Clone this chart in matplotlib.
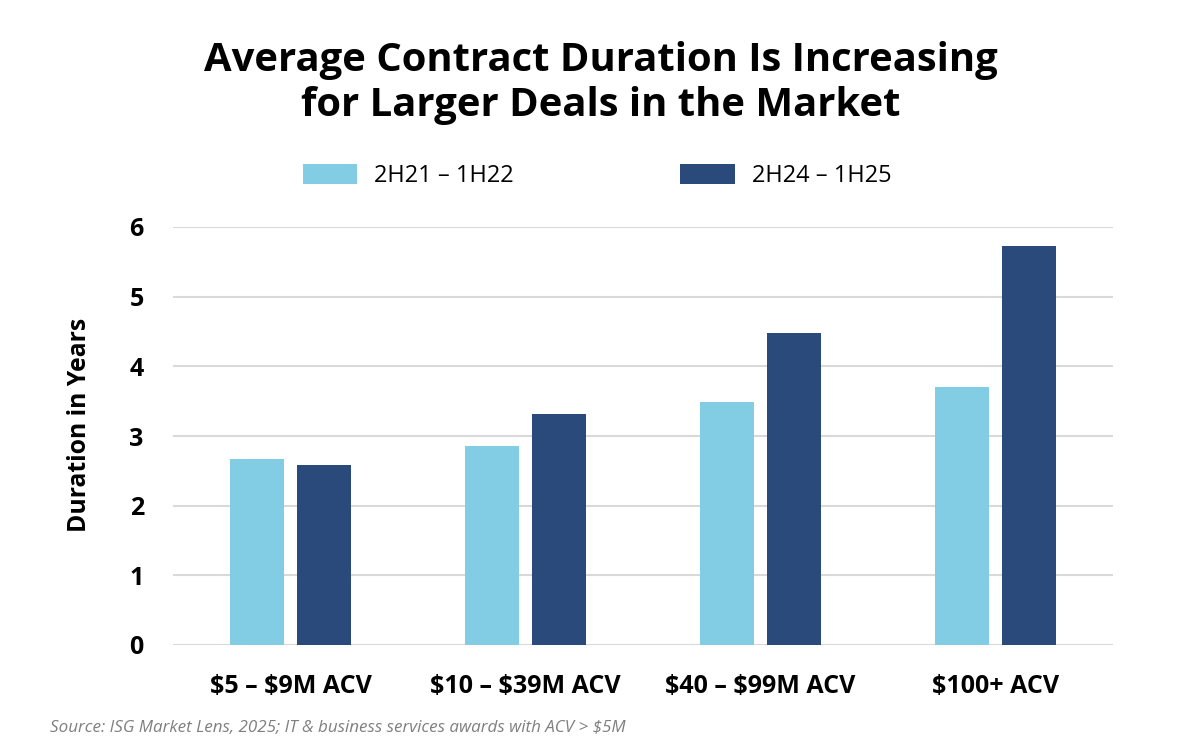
import matplotlib
matplotlib.use("Agg")
import matplotlib.pyplot as plt
import numpy as np

categories = ["\\$5 – \\$9M ACV", "\\$10 – \\$39M ACV", "\\$40 – \\$99M ACV", "\\$100+ ACV"]
series_names = ["2H21 – 1H22", "2H24 – 1H25"]
values_2h21 = [2.67, 2.86, 3.49, 3.70]
values_2h24 = [2.59, 3.32, 4.48, 5.73]
yticks = [0, 1, 2, 3, 4, 5, 6]

LIGHT = "#82CDE3"
DARK = "#2A4A7B"

plt.rcParams['font.family'] = ['Open Sans', 'DejaVu Sans']

fig = plt.figure(figsize=(12.01, 7.5), dpi=100)
ax = fig.add_axes([173/1201, 105/750, (1113-173)/1201, (645-227)/750])

x = np.arange(len(categories))
w = 0.226
off = 0.1426
ax.bar(x - off, values_2h21, width=w, color=LIGHT, label=series_names[0], zorder=3)
ax.bar(x + off, values_2h24, width=w, color=DARK, label=series_names[1], zorder=3)

ax.set_xlim(-0.5, len(categories) - 0.5)
ax.set_ylim(0, 6)
ax.set_yticks(yticks)
ax.set_yticklabels([str(t) for t in yticks], fontsize=18, fontweight='bold')
ax.set_xticks(x)
ax.set_xticklabels(categories, fontsize=18, fontweight='bold')
ax.tick_params(axis='y', length=0, pad=21)
ax.tick_params(axis='x', length=0, pad=21)
ax.grid(axis='y', color='#D9D9D9', linewidth=1.5, zorder=0)
for s in ax.spines.values():
    s.set_visible(False)
ax.set_ylabel("Duration in Years", fontsize=17.8, fontweight='bold')
ax.yaxis.set_label_coords(-(173 - 92) / 940, (645 - 425) / 418)

fig.legend(loc='center', bbox_to_anchor=(597/1201, 1 - 176/750),
           ncol=2, frameon=False, fontsize=17, handlelength=2.29, handleheight=0.89,
           handletextpad=0.72, columnspacing=7.07)

fig.text(0.5, 1 - 83/750, "Average Contract Duration Is Increasing\nfor Larger Deals in the Market",
         ha='center', va='center', fontsize=28.8, fontweight='bold', linespacing=1.2)

fig.text(50/1201, 1 - 728/750,
         "Source: ISG Market Lens, 2025; IT & business services awards with ACV > \\$5M",
         ha='left', va='center', fontsize=12.25, style='italic', color='#7F7F7F')

fig.savefig("out.png", dpi=100)
